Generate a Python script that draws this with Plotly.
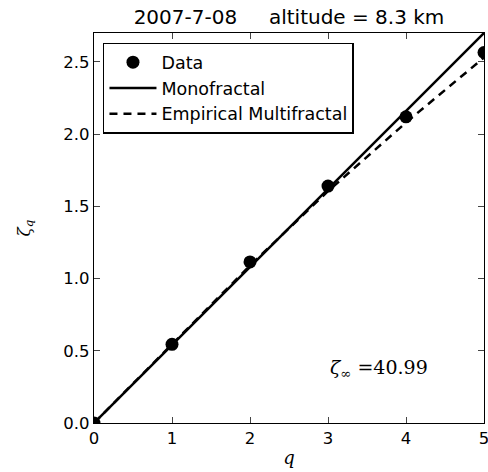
import plotly.graph_objects as go

data_q = [0, 1, 2, 3, 4, 5]
data_zeta = [0.0, 0.545, 1.115, 1.64, 2.12, 2.565]

mono_q = [0, 5]
mono_zeta = [0.0, 2.7]

mf_q = [0, 1, 2, 3, 4, 5]
mf_zeta = [0.0, 0.545, 1.09, 1.605, 2.08, 2.53]

x_ticks = [0, 1, 2, 3, 4, 5]
y_ticks = [0.0, 0.5, 1.0, 1.5, 2.0, 2.5]
y_ticklabels = ["0.0", "0.5", "1.0", "1.5", "2.0", "2.5"]

fig = go.Figure()
fig.add_trace(go.Scatter(x=data_q, y=data_zeta, mode="markers", name="Data",
                         marker=dict(color="black", size=13)))
fig.add_trace(go.Scatter(x=mono_q, y=mono_zeta, mode="lines", name="Monofractal",
                         line=dict(color="black", width=2.5)))
fig.add_trace(go.Scatter(x=mf_q, y=mf_zeta, mode="lines", name="Empirical Multifractal",
                         line=dict(color="black", width=2.5, dash="8px,6px")))

fig.update_layout(
    width=488, height=472,
    margin=dict(l=94, r=4, t=33, b=49, autoexpand=False),
    paper_bgcolor="white", plot_bgcolor="white",
    font=dict(family="DejaVu Sans", size=16.5, color="black"),
    title=dict(text="2007-7-08     altitude = 8.3 km", x=(94 + 390 / 2) / 488, xanchor="center",
               y=1 - 17 / 472, yanchor="middle", font=dict(size=20)),
    showlegend=True,
    legend=dict(x=0.023, y=0.975, xanchor="left", yanchor="top",
                bordercolor="black", borderwidth=1.5, bgcolor="white",
                font=dict(size=17.5), tracegroupgap=0, itemwidth=47),
    xaxis=dict(range=[0, 5], tickvals=x_ticks, ticks="inside", ticklen=6,
               showline=True, linecolor="black", linewidth=1.2, mirror="ticks",
               showgrid=False, zeroline=False, ticklabeloverflow="allow", automargin=False,
               title=dict(text="<i>q</i>", font=dict(family="DejaVu Serif", size=18), standoff=4)),
    yaxis=dict(range=[0, 2.7], tickvals=y_ticks, ticktext=y_ticklabels, ticks="inside", ticklen=6,
               showline=True, linecolor="black", linewidth=1.2, mirror="ticks",
               showgrid=False, zeroline=False, ticklabeloverflow="allow", automargin=False,
               title=dict(text="<i>ζ<sub>q</sub></i>", font=dict(family="DejaVu Serif", size=17), standoff=28)),
    annotations=[dict(x=3.65, y=0.38, xref="x", yref="y", showarrow=False,
                      text="<i>ζ</i><sub>∞</sub> =40.99",
                      font=dict(family="DejaVu Serif", size=19))],
)

fig.write_html("out.html")
